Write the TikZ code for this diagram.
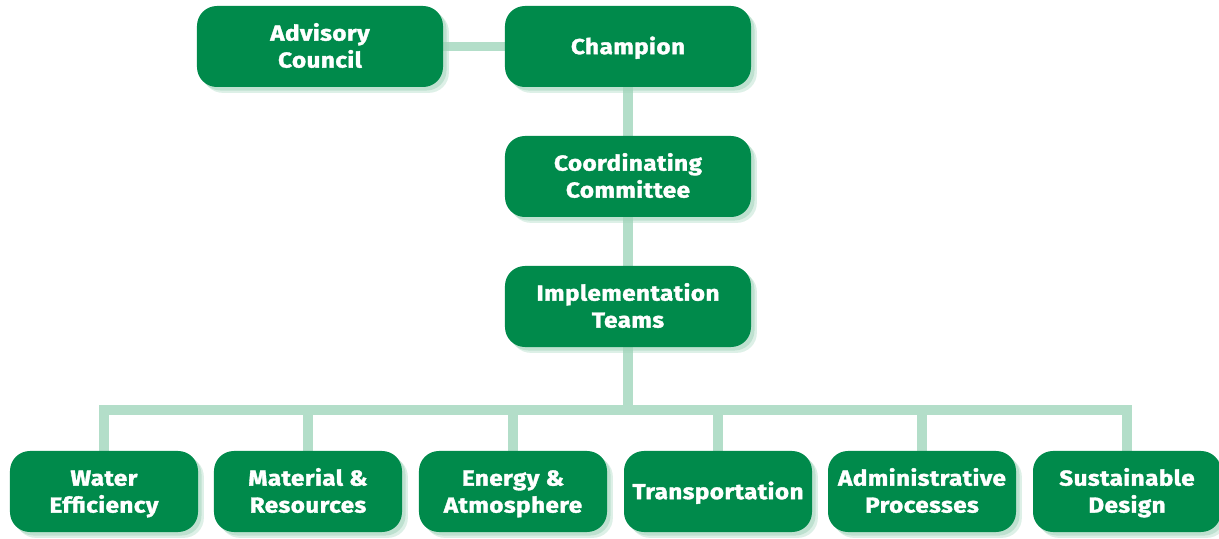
\documentclass[tikz,border=0pt]{standalone}
\usepackage{fontspec}
\setmainfont{Fira Sans}
\newfontfamily\boxfont{Fira Sans}[BoldFeatures={FakeBold=1.6,FakeStretch=1.12,LetterSpace=2}]
\usetikzlibrary{shadows,backgrounds}
\definecolor{boxgreen}{HTML}{008A4B}
\definecolor{linegreen}{HTML}{B3DEC9}
\definecolor{shadegreen}{HTML}{9FD3B9}
\tikzset{
  box/.style={fill=boxgreen, rounded corners=17pt, text=white, align=center,
    font=\boxfont\fontsize{18.5}{23}\selectfont\bfseries, inner sep=2pt,
    minimum height=2.43cm, text height=36pt, text depth=0pt,
    general shadow={fill=shadegreen, opacity=0.35, shadow xshift=5pt, shadow yshift=-5pt},
    general shadow={fill=shadegreen, opacity=0.5, shadow xshift=3pt, shadow yshift=-3pt}},
  oneline/.style={text height=13pt},
  bigbox/.style={box, minimum width=7.38cm},
  smallbox/.style={box, minimum width=5.64cm},
  link/.style={draw=linegreen, line width=8.5pt}
}
\begin{document}
\begin{tikzpicture}[x=0.03cm,y=-0.03cm]
\useasboundingbox (0,0) rectangle (1219,539);
\node[bigbox] (advisory) at (320,46.5) {Advisory\\Council};
\node[bigbox, oneline] (champion) at (628,46.5) {Champion};
\node[bigbox] (coord) at (628,176.5) {Coordinating\\Committee};
\node[bigbox] (impl) at (628,306.5) {Implementation\\Teams};
\node[smallbox] (water) at (104,491.5) {Water\\Efficiency};
\node[smallbox] (material) at (308,491.5) {Material \&\\Resources};
\node[smallbox] (energy) at (513,491.5) {Energy \&\\Atmosphere};
\node[smallbox, oneline] (transport) at (718,491.5) {Transportation};
\node[smallbox] (admin) at (922,491.5) {Administrative\\Processes};
\node[smallbox] (design) at (1127,491.5) {Sustainable\\Design};
\coordinate (bus) at (628,410);
\begin{pgfonlayer}{background}
\draw[link] (advisory) -- (champion);
\draw[link] (champion) -- (coord);
\draw[link] (coord) -- (impl);
\draw[link] (impl) -- (bus);
\draw[link] (bus) -| (water);
\draw[link] (bus) -| (material);
\draw[link] (bus) -| (energy);
\draw[link] (bus) -| (transport);
\draw[link] (bus) -| (admin);
\draw[link] (bus) -| (design);
\end{pgfonlayer}
\end{tikzpicture}
\end{document}
